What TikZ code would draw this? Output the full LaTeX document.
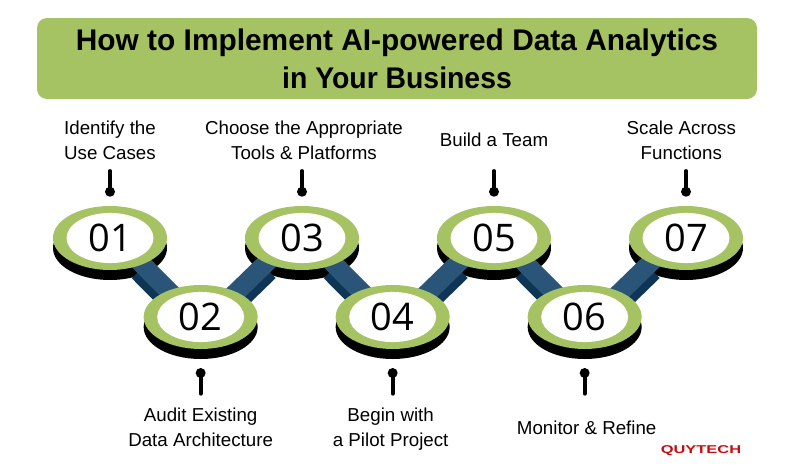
\documentclass[tikz,border=0pt]{standalone}
\usepackage{xcolor}
\usepackage{fontspec}
\setmainfont{Liberation Sans}
\newfontfamily\numfont{Open Sans}
\usepackage{tikz}
\usetikzlibrary{calc}
\usetikzlibrary{positioning}
\usetikzlibrary{shapes.geometric}
\usetikzlibrary{backgrounds}

\definecolor{ringgreen}{HTML}{A5C363}
\definecolor{barblue}{HTML}{2A5578}
\definecolor{bardark}{HTML}{0E3555}
\definecolor{logored}{HTML}{C40D12}

\tikzset{
    titlebox/.style={fill=ringgreen, rounded corners=7.5pt, minimum width=540pt,
        minimum height=60.75pt, inner sep=0pt},
    titletext/.style={align=center, inner sep=0pt,
        font=\fontsize{22.4}{28.5}\selectfont\bfseries},
    ring/.style={shape=ellipse, fill=ringgreen, minimum width=85.5pt, minimum height=48pt,
        inner sep=0pt, font=\numfont\fontsize{28.5}{28.5}\selectfont,
        path picture={\fill[white] (path picture bounding box.center) ellipse (32.6pt and 18.8pt);}},
    under/.style={shape=ellipse, fill=black, minimum width=85.5pt, minimum height=48pt,
        inner sep=0pt},
    caption/.style={align=center, inner sep=0pt, font=\fontsize{14.05}{18.75}\selectfont},
    dot/.style={shape=circle, fill=black, minimum size=7.5pt, inner sep=0pt},
    stem/.style={line width=3pt, line cap=round},
    barface/.style={line width=14.2pt, barblue},
    barside/.style={line width=14.2pt, bardark, shorten <=24pt,
        transform canvas={yshift=-8.25pt}}
}

\begin{document}
\begin{tikzpicture}[x=.75pt, y=.75pt, on grid]

                \def\dx{68pt}
                \def\dX{76pt}
                \def\dy{59.25pt}
                \def\dt{72.3pt}
                \def\db{84pt}
                \def\dd{34.7pt}
                \def\de{42pt}
                \def\ds{15.5pt}

                \useasboundingbox (0, 0) rectangle (794, -475);

                \node (Title) [titlebox] at (397, -58.5) {};
                \node (TitleText) [titletext] at (397, -59)
                {How to Implement AI-powered Data Analytics\\\scalebox{.95}[1]{in Your Business}};

                % Rings
                \begin{scope}
                    \node (N1) [ring] at (110, -238) {01};
                    \node (N2) [ring, below right=\dy and \dx of N1] {02};
                    \node (N3) [ring, above right=\dy and \dX of N2] {03};
                    \node (N4) [ring, below right=\dy and \dx of N3] {04};
                    \node (N5) [ring, above right=\dy and \dX of N4] {05};
                    \node (N6) [ring, below right=\dy and \dx of N5] {06};
                    \node (N7) [ring, above right=\dy and \dX of N6] {07};
                \end{scope}

                % Captions
                \begin{scope}
                    \node (L1) [caption, above=\dt of N1] {\strut Identify the\\Use Cases\strut};
                    \node (L2) [caption, below=\db of N2] {\strut Audit Existing\\Data Architecture\strut};
                    \node (L3) [caption, above=\dt of N3, xshift=1.5pt] {\strut Choose the Appropriate\\Tools \& Platforms\strut};
                    \node (L4) [caption, below=\db of N4, xshift=-1.5pt] {\strut Begin with\\a Pilot Project\strut};
                    \node (L5) [caption, above=\dt of N5] {\strut Build a Team\strut};
                    \node (L6) [caption, below=\db of N6, xshift=1.5pt] {\strut Monitor \& Refine\strut};
                    \node (L7) [caption, above=\dt of N7, xshift=-3.5pt] {\strut Scale Across\\Functions\strut};
                \end{scope}

                % Stems with a dot on the end
                \begin{scope}
                    \node (D1) [dot, above=\dd of N1] {};
                    \node (D2) [dot, below=\de of N2] {};
                    \node (D3) [dot, above=\dd of N3] {};
                    \node (D4) [dot, below=\de of N4] {};
                    \node (D5) [dot, above=\dd of N5] {};
                    \node (D6) [dot, below=\de of N6] {};
                    \node (D7) [dot, above=\dd of N7] {};
                    \coordinate[above=\ds of D1] (T1);
                    \coordinate[below=\ds of D2] (T2);
                    \coordinate[above=\ds of D3] (T3);
                    \coordinate[below=\ds of D4] (T4);
                    \coordinate[above=\ds of D5] (T5);
                    \coordinate[below=\ds of D6] (T6);
                    \coordinate[above=\ds of D7] (T7);
                \end{scope}

                \begin{scope}[stem]
                    \draw (D1.center) -- (T1);
                    \draw (D2.center) -- (T2);
                    \draw (D3.center) -- (T3);
                    \draw (D4.center) -- (T4);
                    \draw (D5.center) -- (T5);
                    \draw (D6.center) -- (T6);
                    \draw (D7.center) -- (T7);
                \end{scope}

                % Black undersides, then the bars, all behind the rings
                \begin{pgfonlayer}{background}
                    \node (U1) [under, below=7.5pt of N1] {};
                    \node (U2) [under, below=7.5pt of N2] {};
                    \node (U3) [under, below=7.5pt of N3] {};
                    \node (U4) [under, below=7.5pt of N4] {};
                    \node (U5) [under, below=7.5pt of N5] {};
                    \node (U6) [under, below=7.5pt of N6] {};
                    \node (U7) [under, below=7.5pt of N7] {};

                    \draw[barside] ($(N1)+(6,0)$) -- ($(N2)-(6,0)$);
                    \draw[barside] ($(N3)-(10,0)$) -- ($(N2)+(10,0)$);
                    \draw[barside] ($(N3)+(6,0)$) -- ($(N4)-(6,0)$);
                    \draw[barside] ($(N5)-(10,0)$) -- ($(N4)+(10,0)$);
                    \draw[barside] ($(N5)+(6,0)$) -- ($(N6)-(6,0)$);
                    \draw[barside] ($(N7)-(10,0)$) -- ($(N6)+(10,0)$);
                    \draw[barface] ($(N1)+(6,0)$) -- ($(N2)-(6,0)$);
                    \draw[barface] ($(N3)-(10,0)$) -- ($(N2)+(10,0)$);
                    \draw[barface] ($(N3)+(6,0)$) -- ($(N4)-(6,0)$);
                    \draw[barface] ($(N5)-(10,0)$) -- ($(N4)+(10,0)$);
                    \draw[barface] ($(N5)+(6,0)$) -- ($(N6)-(6,0)$);
                    \draw[barface] ($(N7)-(10,0)$) -- ($(N6)+(10,0)$);
                \end{pgfonlayer}

                \node (Logo) [logored, inner sep=0pt, font=\fontsize{8.5}{8.5}\selectfont\bfseries] at (701, -451)
                {\scalebox{1.45}[1]{QUYTECH}};

\end{tikzpicture}
\end{document}
